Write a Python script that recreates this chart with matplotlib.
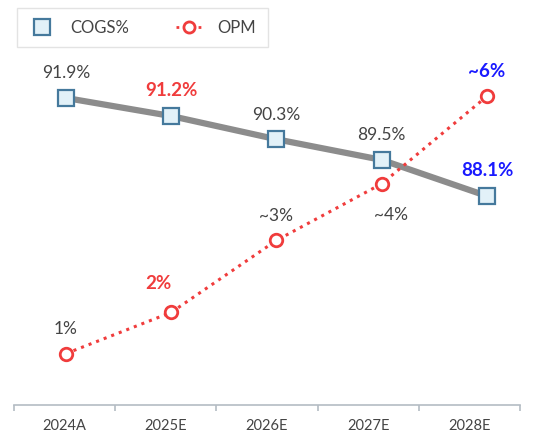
import matplotlib
matplotlib.use("Agg")
import matplotlib.pyplot as plt
from matplotlib.lines import Line2D

plt.rcParams['font.family'] = ['Lato', 'DejaVu Sans']

# data
years = ['2024A', '2025E', '2026E', '2027E', '2028E']
cogs = [91.9, 91.2, 90.3, 89.5, 88.1]
cogs_labels = ['91.9%', '91.2%', '90.3%', '89.5%', '88.1%']
opm = [1.0, 1.8, 3.2, 4.3, 6.0]
opm_labels = ['1%', '2%', '~3%', '~4%', '~6%']

x = list(range(len(years)))
grey_txt = '#444444'
red = '#f03c3c'
blue = '#1a1aff'

fig = plt.figure(figsize=(5.42, 4.32), dpi=100)
rect = [14 / 542, 27 / 432, 506 / 542, 355 / 432]

# category axis (bands)
ax = fig.add_axes(rect)
ax.set_xlim(-0.5, 4.5)
ax.set_ylim(0, 1)
for s in ['top', 'right', 'left']:
    ax.spines[s].set_visible(False)
ax.set_yticks([])
ax.spines['bottom'].set_color('#b4bcc4')
ax.spines['bottom'].set_linewidth(1.2)
ax.set_xticks(x)
ax.set_xticklabels(years, fontsize=10.5, color='#444444')
ax.tick_params(axis='x', which='major', length=0, pad=10)
ax.set_xticks([i - 0.5 for i in range(len(years) + 1)], minor=True)
ax.tick_params(axis='x', which='minor', length=4, color='#b4bcc4', width=1.2)

# line axes (points are not centred on the bands)
axl = fig.add_axes(rect, frameon=False)
axr = fig.add_axes(rect, frameon=False)
for a in (axl, axr):
    a.set_xlim(-0.494, 4.314)
    a.set_xticks([])
    a.set_yticks([])

# COGS line
axl.plot(x, cogs, color='#8c8c8c', lw=4.5, zorder=2)
axl.plot(x, cogs, ls='none', marker='s', ms=11, mfc='#e2f1f8', mec='#45799c', mew=1.6, zorder=3)
axl.set_ylim(80, 93.76)

# OPM line
axr.plot(x, opm, color=red, ls=':', lw=2.2, marker='o', ms=9, mfc='white', mec=red, mew=2, zorder=4)
axr.set_ylim(0, 6.9)

# labels COGS
cogs_style = [(grey_txt, 'normal', 12.5), (red, 'bold', 13.5), (grey_txt, 'normal', 12.5),
              (grey_txt, 'normal', 12.5), (blue, 'bold', 13.5)]
for i, (v, t) in enumerate(zip(cogs, cogs_labels)):
    c, w, fs = cogs_style[i]
    axl.annotate(t, (i, v), xytext=(0, 12), textcoords='offset points', ha='center', va='bottom',
                 fontsize=fs, color=c, fontweight=w)

# labels OPM
opm_style = [(grey_txt, 'normal', (0, 12), 12.5), (red, 'bold', (-9, 15), 13.5),
             (grey_txt, 'normal', (0, 12), 12.5), (grey_txt, 'normal', (7, -17), 12.5),
             (blue, 'bold', (0, 12), 13.5)]
for i, (v, t) in enumerate(zip(opm, opm_labels)):
    c, w, off, fs = opm_style[i]
    axr.annotate(t, (i, v), xytext=off, textcoords='offset points', ha='center',
                 va='bottom' if off[1] > 0 else 'top', fontsize=fs, color=c, fontweight=w)

# legend
handles = [
    Line2D([], [], ls='none', marker='s', ms=11, mfc='#e2f1f8', mec='#45799c', mew=1.6),
    Line2D([], [], color=red, ls=':', lw=2, marker='o', ms=8, mfc='white', mec=red, mew=2),
]
leg = fig.legend(handles, ['COGS%', 'OPM'], loc='upper left', bbox_to_anchor=(17 / 542, 1 - 8 / 432),
                 ncol=2, frameon=True, fancybox=False, edgecolor='#dddddd', fontsize=12,
                 handlelength=1.6, handletextpad=0.9, columnspacing=2.8, borderpad=0.7,
                 borderaxespad=0, labelcolor='#444444')
leg.get_frame().set_linewidth(1)

fig.savefig('out.png', dpi=100)
